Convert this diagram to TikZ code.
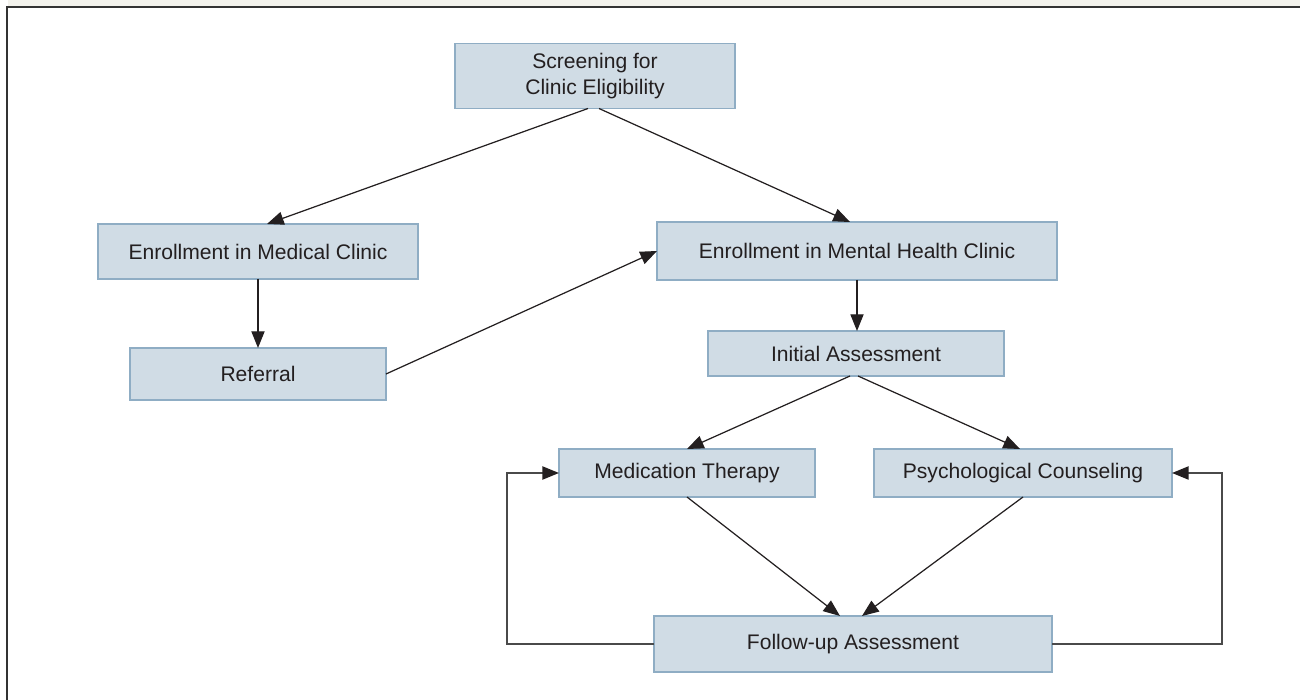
\documentclass[tikz,border=0pt]{standalone}
\usepackage{fontspec}
\setmainfont{Liberation Sans}
\usepackage{tikz}
\usetikzlibrary{arrows.meta, positioning, calc}

\definecolor{boxfill}{HTML}{D0DCE5}
\definecolor{boxline}{HTML}{8FADC4}
\definecolor{inktext}{HTML}{231F20}
\definecolor{stripbg}{HTML}{F3F2EC}
\definecolor{backgray}{HTML}{4A4A4A}

\begin{document}
\begin{tikzpicture}[every node/.style={outer sep=0pt},
    stepbox/.style={draw=boxline, fill=boxfill, line width=0.8pt, text=inktext,
        font=\fontsize{12}{14.5}\selectfont, align=center, inner sep=0pt},
    flow/.style={-{Triangle[length=9.5pt, width=7.5pt]}, line width=0.7pt, draw=inktext},
    backflow/.style={-{Triangle[length=9.5pt, width=7.5pt, color=inktext]}, line width=1pt, draw=backgray}]
    \useasboundingbox (0,0) rectangle (26,14);

    % Frame
    \fill[stripbg] (0.16,14) rectangle (26,13.88);
    \draw[line width=1.5pt, draw=black!80] (0.14,0) -- (0.14,13.86) -- (26,13.86);

    % Screening
    \node[stepbox, minimum width=5.6cm, minimum height=1.3cm] (screen) at (11.9,12.48) {Screening for\\Clinic Eligibility};

    % Medical clinic branch
    \node[stepbox, minimum width=6.4cm, minimum height=1.1cm] (medical) at (5.16,8.97) {Enrollment in Medical Clinic};
    \node[stepbox, minimum width=5.12cm, minimum height=1.04cm] (referral) at (5.16,6.52) {Referral};

    % Mental health clinic branch
    \node[stepbox, minimum width=8cm, minimum height=1.16cm] (mental) at (17.14,8.98) {Enrollment in Mental Health Clinic};
    \node[stepbox, minimum width=5.92cm, minimum height=0.9cm] (initial) at (17.12,6.93) {Initial Assessment};

    % Treatment
    \node[stepbox, minimum width=5.12cm, minimum height=0.96cm] (medication) at (13.74,4.54) {Medication Therapy};
    \node[stepbox, minimum width=5.96cm, minimum height=0.96cm] (counsel) at (20.46,4.54) {Psychological Counseling};
    \node[stepbox, minimum width=7.96cm, minimum height=1.12cm] (followup) at (17.06,1.12) {Follow-up Assessment};

    % Arrows
    \draw[flow] ([xshift=-0.14cm]screen.south) -- ([xshift=0.18cm]medical.north);
    \draw[flow] ([xshift=0.08cm]screen.south) -- ([xshift=-0.14cm]mental.north);
    \draw[flow] (medical.south) -- (referral.north);
    \draw[flow] (referral.east) -- (mental.west);
    \draw[flow] (mental.south) -- (mental.south |- initial.north);
    \draw[flow] ([xshift=-0.12cm]initial.south) -- (medication.north);
    \draw[flow] ([xshift=0.04cm]initial.south) -- ([xshift=-0.06cm]counsel.north);
    \draw[flow] (medication.south) -- ([xshift=-0.26cm]followup.north);
    \draw[flow] (counsel.south) -- ([xshift=0.18cm]followup.north);

    % Feedback loops
    \draw[backflow] (followup.west) -- ++(-2.94,0) |- (medication.west);
    \draw[backflow] (followup.east) -- ++(3.4,0) |- (counsel.east);
\end{tikzpicture}
\end{document}
